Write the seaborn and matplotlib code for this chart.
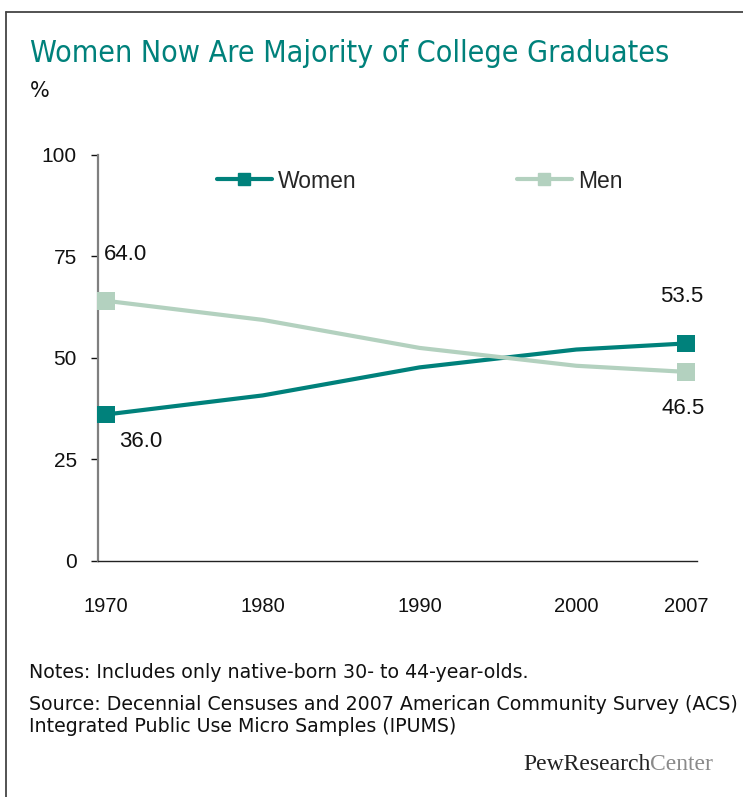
import pandas as pd
import seaborn as sns
import matplotlib.pyplot as plt
from matplotlib.lines import Line2D
from matplotlib import font_manager

# data
years = [1970, 1980, 1990, 2000, 2007]
women = [36.0, 40.7, 47.6, 52.0, 53.5]
men = [64.0, 59.3, 52.4, 48.0, 46.5]
year_ticks = [1970, 1980, 1990, 2000, 2007]
y_ticks = [0, 25, 50, 75, 100]

title = "Women Now Are Majority of College Graduates"
notes = "Notes: Includes only native-born 30- to 44-year-olds."
source_1 = "Source: Decennial Censuses and 2007 American Community Survey (ACS)"
source_2 = "Integrated Public Use Micro Samples (IPUMS)"

TEAL = "#00817B"
SAGE = "#B3D1BF"

installed = {f.name for f in font_manager.fontManager.ttflist}


def pick(*names):
    for n in names:
        if n in installed:
            return n
    return "DejaVu Sans"


TEXT_FONT = pick("DejaVu Sans")
NUM_FONT = pick("Liberation Sans Narrow", "Liberation Sans")
SERIF = pick("Liberation Serif", "DejaVu Serif")

df = pd.concat([
    pd.DataFrame({"year": years, "share": women, "sex": "Women"}),
    pd.DataFrame({"year": years, "share": men, "sex": "Men"}),
], ignore_index=True)
ends = df[df["year"].isin([years[0], years[-1]])]

sns.set_theme(style="white")
plt.rcParams["font.family"] = [NUM_FONT, "DejaVu Sans"]

fig = plt.figure(figsize=(7.43, 7.97), dpi=100)
ax = fig.add_axes([0.1315, 0.2965, 0.8065, 0.5095])

palette = {"Women": TEAL, "Men": SAGE}
sns.lineplot(data=df, x="year", y="share", hue="sex", palette=palette,
             linewidth=3.0, legend=False, ax=ax)
sns.scatterplot(data=ends, x="year", y="share", hue="sex", palette=palette,
                marker="s", s=160, linewidth=0, legend=False, ax=ax,
                clip_on=False, zorder=5)

ax.set_xlim(1969.47, 2007.7)
ax.set_ylim(0, 100)
ax.set_xticks(year_ticks)
ax.set_yticks(y_ticks)
ax.tick_params(axis="x", length=0, pad=26, labelsize=14.5, colors="#111111")
ax.tick_params(axis="y", length=5, width=1, pad=10, labelsize=15,
               colors="#111111", left=True)
ax.set_xlabel("")
ax.set_ylabel("")
for side in ["top", "right"]:
    ax.spines[side].set_visible(False)
ax.spines["left"].set_color("#7F7F7F")
ax.spines["left"].set_linewidth(1.6)
ax.spines["bottom"].set_color("#222222")
ax.spines["bottom"].set_linewidth(1.0)

# end-point value labels
labels = [
    (years[0], men[0], (19, 46)),
    (years[0], women[0], (35, -27)),
    (years[-1], women[-1], (-4, 47)),
    (years[-1], men[-1], (-3, -37)),
]
for x, v, off in labels:
    ax.annotate(f"{v:.1f}", xy=(x, v), xytext=off, textcoords="offset pixels",
                ha="center", va="center", fontsize=16, color="#111111")

handles = [
    Line2D([], [], color=TEAL, lw=3, marker="s", markersize=9, label="Women"),
    Line2D([], [], color=SAGE, lw=3, marker="s", markersize=9, label="Men"),
]
ax.legend(handles=handles, ncol=2, frameon=False, loc="center left",
          bbox_to_anchor=(0.199, 0.935), borderpad=0, borderaxespad=0,
          handlelength=2.4, handletextpad=0.26, columnspacing=7.0,
          fontsize=16.5)

W, H = 743, 797
fig.text(30 / W, 1 - 61.7 / H, title, fontsize=21.8, color=TEAL,
         family=[TEXT_FONT], stretch="condensed", va="baseline")
fig.text(30 / W, 1 - 97 / H, "%", fontsize=15, color="#111111",
         family=[TEXT_FONT], va="baseline")
fig.text(29 / W, 1 - 678 / H, notes, fontsize=13.7, color="#111111",
         family=[TEXT_FONT], va="baseline")
fig.text(29 / W, 1 - 710 / H, source_1, fontsize=13.7, color="#111111",
         family=[TEXT_FONT], va="baseline")
fig.text(29 / W, 1 - 731.7 / H, source_2, fontsize=13.7, color="#111111",
         family=[TEXT_FONT], va="baseline")

logo = fig.text(523 / W, 1 - 770 / H, "PewResearch", fontsize=17,
                color="#222222", family=[SERIF], va="baseline")
fig.canvas.draw()
bb = logo.get_window_extent()
fig.text(bb.x1 / W, 1 - 770 / H, "Center", fontsize=17, color="#8A8A8A",
         family=[SERIF], va="baseline")

# outer frame, left and top edges only
frame = dict(color="#444444", lw=1.3, transform=fig.transFigure)
fig.add_artist(Line2D([6 / W, 6 / W], [0, 1 - 12 / H], **frame))
fig.add_artist(Line2D([6 / W, 1], [1 - 12 / H, 1 - 12 / H], **frame))

fig.savefig("out.png", dpi=100)
